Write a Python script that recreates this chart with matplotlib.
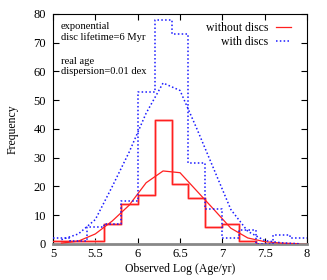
import numpy as np
import matplotlib
matplotlib.use("Agg")
import matplotlib.pyplot as plt
from matplotlib.lines import Line2D

plt.rcParams['font.family'] = ['Liberation Serif', 'DejaVu Serif']

# Histogram bin edges (log age)
bin_edges = [5.0, 5.2, 5.4, 5.6, 5.8, 6.0, 6.2, 6.4, 6.6, 6.8, 7.0, 7.2, 7.4, 7.6, 7.8, 8.0]
# Counts without discs (red) and with discs (blue)
counts_without = [1, 1, 1, 7, 14, 17, 43, 21, 16, 6, 7, 1, 0, 0, 0]
counts_with = [2, 1, 6, 7, 15, 53, 78, 73, 28, 12, 2, 5, 0, 3, 2]

# Smooth curves (bin centres)
curve_x = [5.1, 5.3, 5.5, 5.7, 5.9, 6.1, 6.3, 6.5, 6.7, 6.9, 7.1, 7.3, 7.5, 7.7, 7.9]
curve_without = [0.3, 1.0, 3.5, 8.0, 13.5, 21.3, 25.4, 24.8, 18.4, 12.0, 5.5, 2.1, 0.8, 0.3, 0.1]
curve_with = [1.5, 3.5, 8.5, 20.0, 32.0, 45.5, 56.0, 53.4, 40.0, 26.0, 12.0, 4.4, 1.2, 0.4, 0.1]

xticks = [5, 5.5, 6, 6.5, 7, 7.5, 8]
xticklabels = ['5', '5.5', '6', '6.5', '7', '7.5', '8']
yticks = [0, 10, 20, 30, 40, 50, 60, 70, 80]

fig = plt.figure(figsize=(3.27, 2.80), dpi=100)
ax = fig.add_axes([0.162, 0.1286, 0.777, 0.8214])

red = '#ff2020'
blue = '#1a1aff'

def steps(edges, counts):
    xs, ys = [], []
    for i, c in enumerate(counts):
        xs += [edges[i], edges[i + 1]]
        ys += [c, c]
    return xs, ys

rx, ry = steps(bin_edges, counts_without)
bx, by = steps(bin_edges, counts_with)

ax.plot(rx, ry, color='#ffa0a0', lw=1.8, zorder=2)
ax.plot(rx, ry, color=red, lw=0.9, zorder=3)
ax.plot(curve_x, curve_without, color=red, lw=0.9, zorder=3)
ax.plot(bx, by, color=blue, lw=1.1, ls=(0, (1, 1.5)), zorder=4)
ax.plot(curve_x, curve_with, color=blue, lw=1.1, ls=(0, (1, 1.5)), zorder=4)

ax.set_xlim(5, 8)
ax.set_ylim(0, 80)
ax.set_xticks(xticks)
ax.set_xticklabels(xticklabels)
ax.set_yticks(yticks)
ax.tick_params(direction='in', top=True, right=True, labelsize=9, length=4, width=0.8)
ax.tick_params(axis='x', pad=3)
ax.tick_params(axis='y', pad=5)
for s in ax.spines.values():
    s.set_linewidth(0.8)
ax.spines['bottom'].set_color('#888888')
ax.spines['bottom'].set_linewidth(2.0)

ax.set_xlabel('Observed Log (Age/yr)', fontsize=8.5, labelpad=2)
ax.set_ylabel('Frequency', fontsize=8.5, labelpad=11)

ax.text(0.03, 0.965, 'exponential\ndisc lifetime=6 Myr', transform=ax.transAxes,
        fontsize=7.6, va='top', ha='left', linespacing=1.15)
ax.text(0.03, 0.815, 'real age\ndispersion=0.01 dex', transform=ax.transAxes,
        fontsize=7.6, va='top', ha='left', linespacing=1.15)

handles = [Line2D([], [], color=red, lw=0.9),
           Line2D([], [], color=blue, lw=1.1, ls=(0, (1, 1.5)))]
leg = ax.legend(handles, ['without discs', 'with discs'], loc='upper right',
                frameon=False, markerfirst=False, fontsize=8.5, handlelength=1.3,
                handletextpad=0.6, labelspacing=0.15, borderaxespad=0.0,
                bbox_to_anchor=(0.955, 0.985))
for t in leg.get_texts():
    t.set_ha('right')

fig.savefig('out.png', dpi=100)
